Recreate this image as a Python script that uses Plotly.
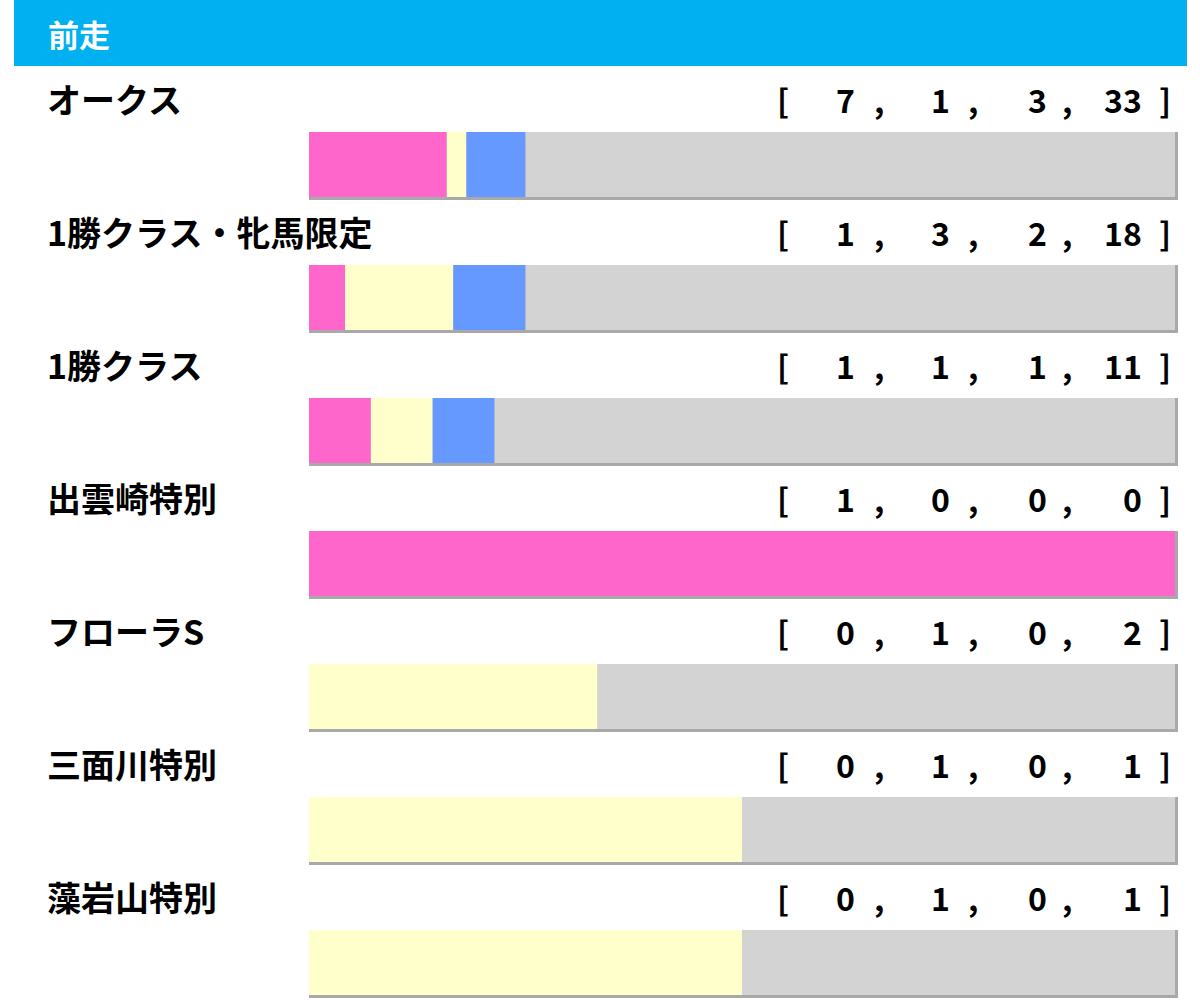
import plotly.graph_objects as go

# 前走別成績 [1着, 2着, 3着, 着外]
races = ['オークス', '1勝クラス・牝馬限定', '1勝クラス', '出雲崎特別', 'フローラS', '三面川特別', '藻岩山特別']
first = [7, 1, 1, 1, 0, 0, 0]
second = [1, 3, 1, 0, 1, 1, 1]
third = [3, 2, 1, 0, 0, 0, 0]
other = [33, 18, 11, 0, 2, 1, 1]

COLORS = ['#FF66CC', '#FFFFCC', '#6699FF', '#D3D3D3']
SHADOW = '#A9A9A9'
W, H = 1200, 1000
PITCH = 133  # px per row
BAR_PX = 65
BAR_L, BAR_R = 309, 1175
SH = 3  # shadow px
FONT = 'Noto Sans CJK JP'

series = [first, second, third, other]
totals = [sum(v) for v in zip(*series)]
pcts = [[v / t * 100 for v, t in zip(s, totals)] for s in series]
rows = list(range(len(races)))

def px(x):
	return x / W

fig = go.Figure()

# shadow behind each bar (right and bottom)
bw = BAR_PX / PITCH
unit = (BAR_R - BAR_L) / 100
fig.add_trace(go.Bar(
	y=rows, x=[100 + SH / unit] * len(rows), base=0, orientation='h',
	width=(BAR_PX + SH) / PITCH, offset=-bw / 2,
	marker=dict(color=SHADOW, line=dict(width=0)), hoverinfo='skip'))

base = [0] * len(rows)
for p, c in zip(pcts, COLORS):
	fig.add_trace(go.Bar(
		y=rows, x=p, base=list(base), orientation='h',
		width=bw, offset=-bw / 2,
		marker=dict(color=c, line=dict(width=0))))
	base = [b + v for b, v in zip(base, p)]

ann = []
label_dy = 66 / PITCH
lf = dict(family=FONT, size=34, color='#000000')
tf = dict(family=FONT, size=32, color='#000000')
for i, name in enumerate(races):
	ty = i - label_dy
	ann.append(dict(x=px(45), y=ty, xref='paper', yref='y', text='<b>%s</b>' % name, showarrow=False,
		xanchor='left', yanchor='middle', font=lf))
	ann.append(dict(x=px(783), y=ty, xref='paper', yref='y', text='<b>[</b>', showarrow=False,
		xanchor='center', yanchor='middle', font=tf))
	ann.append(dict(x=px(1165), y=ty, xref='paper', yref='y', text='<b>]</b>', showarrow=False,
		xanchor='center', yanchor='middle', font=tf))
	for j, (nx, s) in enumerate(zip([857, 952, 1049, 1144], series)):
		ann.append(dict(x=px(nx), y=ty, xref='paper', yref='y', text='<b>%d</b>' % s[i], showarrow=False,
			xanchor='right', yanchor='middle', font=tf))
		if j < 3:
			ann.append(dict(x=px([879, 973, 1067][j]), y=ty, xref='paper', yref='y', text='<b>,</b>',
				showarrow=False, xanchor='center', yanchor='middle', font=tf))

ann.append(dict(x=px(46), y=1 - 33 / H, xref='paper', yref='paper', text='<b>前走</b>', showarrow=False,
	xanchor='left', yanchor='middle', font=dict(family=FONT, size=31, color='#FFFFFF')))

y_top = -(132 + BAR_PX / 2) / PITCH
y_bottom = y_top + H / PITCH

fig.update_layout(
	width=W, height=H,
	margin=dict(l=0, r=0, t=0, b=0),
	paper_bgcolor='white', plot_bgcolor='white',
	barmode='overlay', showlegend=False,
	annotations=ann,
	shapes=[dict(type='rect', xref='paper', yref='paper', x0=px(14), x1=px(1187),
		y0=1 - 66 / H, y1=1, fillcolor='#00B0F0', line=dict(width=0), layer='below')],
	xaxis=dict(domain=[px(BAR_L), px(BAR_R + SH)], range=[0, 100 + SH / unit], visible=False, fixedrange=True),
	yaxis=dict(range=[y_bottom, y_top], visible=False, fixedrange=True),
)

# drop the default page margin so the figure sits at the window corner
fig.write_html("out.html", config={'displayModeBar': False},
	post_script="document.body.style.margin='0';document.body.style.overflow='hidden';")
